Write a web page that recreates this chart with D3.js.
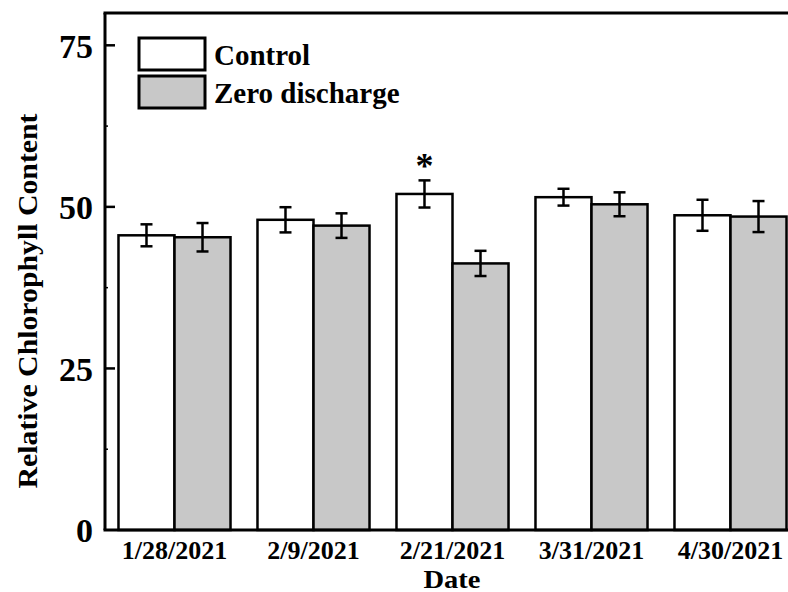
<!DOCTYPE html>
<html>
<head>
<meta charset="utf-8">
<script src="https://cdn.jsdelivr.net/npm/d3@7"></script>
<style>
  body { margin: 0; background: #fff; }
  text { font-family: "Liberation Serif", "Times New Roman", serif; font-weight: bold; }
</style>
</head>
<body>
<div id="chart"></div>
<script>
// data
var dates = ['1/28/2021', '2/9/2021', '2/21/2021', '3/31/2021', '4/30/2021'];
var seriesNames = ['Control', 'Zero discharge'];
var controlMean = [45.6, 48.0, 52.0, 51.5, 48.7];
var controlErr = [1.7, 1.95, 2.1, 1.3, 2.4];
var zeroMean = [45.3, 47.1, 41.25, 50.4, 48.5];
var zeroErr = [2.2, 1.9, 1.95, 1.85, 2.4];
var significant = ['2/21/2021'];
var yTicks = [0, 25, 50, 75];
var yMinorTicks = [12.5, 37.5, 62.5];

var width = 788, height = 592;
var margin = { top: 13, left: 105, bottom: 62 };
var plotRight = 800; // frame runs off the right edge in the original

var svg = d3.select('#chart').append('svg')
  .attr('width', width)
  .attr('height', height);

var x = d3.scaleBand()
  .domain(dates)
  .range([margin.left, plotRight])
  .paddingInner(0.194)
  .paddingOuter(0.097);

var xSub = d3.scaleBand()
  .domain(seriesNames)
  .range([0, x.bandwidth()]);

var y = d3.scaleLinear()
  .domain([0, 80])
  .range([height - margin.bottom, margin.top]);

var fills = { 'Control': '#ffffff', 'Zero discharge': '#c8c8c8' };

// build rows for bars
var rows = [];
dates.forEach(function (d, i) {
  rows.push({ date: d, series: 'Control', mean: controlMean[i], err: controlErr[i] });
  rows.push({ date: d, series: 'Zero discharge', mean: zeroMean[i], err: zeroErr[i] });
});

var bars = svg.append('g').attr('class', 'bars');

bars.selectAll('rect')
  .data(rows)
  .enter().append('rect')
  .attr('x', function (d) { return x(d.date) + xSub(d.series); })
  .attr('y', function (d) { return y(d.mean); })
  .attr('width', xSub.bandwidth())
  .attr('height', function (d) { return y(0) - y(d.mean); })
  .attr('fill', function (d) { return fills[d.series]; })
  .attr('stroke', '#000')
  .attr('stroke-width', 2.5);

// error bars
var errG = svg.append('g').attr('class', 'errors')
  .attr('stroke', '#000')
  .attr('stroke-width', 2.5);

rows.forEach(function (d) {
  var cx = x(d.date) + xSub(d.series) + xSub.bandwidth() / 2;
  var cap = 6;
  errG.append('line')
    .attr('x1', cx).attr('x2', cx)
    .attr('y1', y(d.mean + d.err)).attr('y2', y(d.mean - d.err));
  errG.append('line')
    .attr('x1', cx - cap).attr('x2', cx + cap)
    .attr('y1', y(d.mean + d.err)).attr('y2', y(d.mean + d.err));
  errG.append('line')
    .attr('x1', cx - cap).attr('x2', cx + cap)
    .attr('y1', y(d.mean - d.err)).attr('y2', y(d.mean - d.err));
});

// significance marker
significant.forEach(function (dt) {
  var i = dates.indexOf(dt);
  svg.append('text')
    .attr('x', x(dt) + xSub('Control') + xSub.bandwidth() / 2)
    .attr('y', y(controlMean[i] + controlErr[i]) - 2)
    .attr('text-anchor', 'middle')
    .attr('font-size', 36)
    .text('*');
});

// frame
svg.append('line')
  .attr('x1', margin.left).attr('x2', margin.left)
  .attr('y1', y(80)).attr('y2', y(0))
  .attr('stroke', '#000').attr('stroke-width', 3);
svg.append('line')
  .attr('x1', margin.left - 1.5).attr('x2', plotRight)
  .attr('y1', y(0)).attr('y2', y(0))
  .attr('stroke', '#000').attr('stroke-width', 3);
svg.append('line')
  .attr('x1', margin.left - 1.5).attr('x2', plotRight)
  .attr('y1', y(80)).attr('y2', y(80))
  .attr('stroke', '#000').attr('stroke-width', 3);

// y axis ticks (inward) and labels
var yAxis = svg.append('g');
yAxis.selectAll('line.major')
  .data(yTicks.filter(function (t) { return t > 0; }))
  .enter().append('line')
  .attr('x1', margin.left).attr('x2', margin.left + 10)
  .attr('y1', function (d) { return y(d); })
  .attr('y2', function (d) { return y(d); })
  .attr('stroke', '#000').attr('stroke-width', 2.5);
yAxis.selectAll('line.minor')
  .data(yMinorTicks)
  .enter().append('line')
  .attr('x1', margin.left).attr('x2', margin.left + 3)
  .attr('y1', function (d) { return y(d); })
  .attr('y2', function (d) { return y(d); })
  .attr('stroke', '#000').attr('stroke-width', 1.5);
yAxis.selectAll('text')
  .data(yTicks)
  .enter().append('text')
  .attr('x', margin.left - 12)
  .attr('y', function (d) { return y(d); })
  .attr('dy', '0.36em')
  .attr('text-anchor', 'end')
  .attr('font-size', 34)
  .text(function (d) { return d; });

// x labels
svg.append('g').selectAll('text')
  .data(dates)
  .enter().append('text')
  .attr('x', function (d) { return x(d) + x.bandwidth() / 2; })
  .attr('y', 559)
  .attr('text-anchor', 'middle')
  .attr('font-size', 26)
  .text(function (d) { return d; });

svg.append('text')
  .attr('x', (margin.left + plotRight) / 2 - 0.5)
  .attr('y', 588)
  .attr('text-anchor', 'middle')
  .attr('font-size', 25)
  .attr('textLength', 57)
  .attr('lengthAdjust', 'spacingAndGlyphs')
  .text('Date');

svg.append('text')
  .attr('transform', 'translate(37,301) rotate(-90)')
  .attr('text-anchor', 'middle')
  .attr('font-size', 28)
  .attr('textLength', 375)
  .attr('lengthAdjust', 'spacingAndGlyphs')
  .text('Relative Chlorophyll Content');

// legend
var legend = svg.append('g');
seriesNames.forEach(function (s, i) {
  var ly = 38 + i * 38;
  legend.append('rect')
    .attr('x', 139).attr('y', ly)
    .attr('width', 66).attr('height', 32)
    .attr('fill', fills[s])
    .attr('stroke', '#000').attr('stroke-width', 3);
  legend.append('text')
    .attr('x', 214).attr('y', ly + 27)
    .attr('font-size', 29)
    .text(s);
});
</script>
</body>
</html>
